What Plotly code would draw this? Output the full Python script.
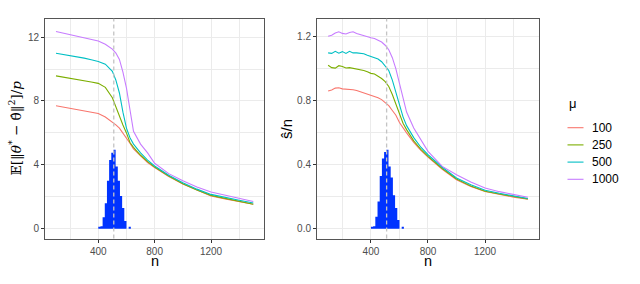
import plotly.graph_objects as go

# ---------------- data ----------------
mu_levels = ["100", "250", "500", "1000"]
mu_colors = ["#F8766D", "#7CAE00", "#00BFC4", "#C77CFF"]

n_left = [100, 150, 200, 250, 300, 350, 400, 450, 500, 525, 550, 575, 600, 625,
          650, 700, 750, 800, 900, 1000, 1100, 1200, 1300, 1400, 1500]
err_100 = [7.70, 7.62, 7.55, 7.47, 7.40, 7.32, 7.22, 7.00, 6.70, 6.50, 6.30, 6.00, 5.65, 5.35,
           5.00, 4.55, 4.15, 3.83, 3.27, 2.80, 2.40, 2.05, 1.87, 1.70, 1.53]
err_250 = [9.57, 9.50, 9.42, 9.35, 9.27, 9.19, 9.10, 8.85, 8.20, 7.60, 7.05, 6.50, 6.00, 5.40,
           5.10, 4.60, 4.20, 3.87, 3.30, 2.82, 2.42, 2.09, 1.90, 1.72, 1.53]
err_500 = [10.99, 10.92, 10.85, 10.77, 10.68, 10.58, 10.47, 10.30, 9.85, 9.30, 8.50, 7.30, 6.30, 5.70,
           5.30, 4.75, 4.30, 3.93, 3.35, 2.88, 2.48, 2.15, 1.95, 1.78, 1.61]
err_1000 = [12.35, 12.25, 12.15, 12.05, 11.95, 11.85, 11.75, 11.55, 11.25, 11.00, 10.60, 9.80, 8.80, 7.45,
            6.10, 5.30, 4.75, 4.10, 3.45, 3.00, 2.62, 2.30, 2.10, 1.90, 1.71]

n_right = [100, 125, 150, 175, 200, 225, 250, 275, 300, 325, 350, 375, 400, 425, 450, 475, 500,
           525, 550, 575, 600, 625, 650, 700, 750, 800, 900, 1000, 1100, 1200, 1300, 1400, 1500]
s_100 = [0.862, 0.868, 0.880, 0.882, 0.875, 0.873, 0.875, 0.870, 0.865, 0.857, 0.852, 0.843, 0.835,
         0.830, 0.820, 0.808, 0.790, 0.770, 0.740, 0.710, 0.665, 0.630, 0.600, 0.540, 0.490, 0.448,
         0.372, 0.307, 0.265, 0.233, 0.215, 0.198, 0.185]
s_250 = [1.023, 1.008, 1.005, 1.020, 1.015, 1.006, 1.008, 1.004, 1.000, 0.995, 0.990, 0.982, 0.972,
         0.968, 0.955, 0.940, 0.920, 0.890, 0.840, 0.780, 0.710, 0.660, 0.620, 0.550, 0.497, 0.453,
         0.377, 0.311, 0.268, 0.235, 0.217, 0.200, 0.187]
s_500 = [1.100, 1.097, 1.110, 1.098, 1.108, 1.097, 1.110, 1.100, 1.100, 1.098, 1.095, 1.085, 1.078,
         1.070, 1.062, 1.045, 1.020, 0.990, 0.930, 0.850, 0.770, 0.700, 0.645, 0.570, 0.510, 0.463,
         0.385, 0.318, 0.275, 0.241, 0.222, 0.204, 0.189]
s_1000 = [1.204, 1.210, 1.225, 1.232, 1.222, 1.218, 1.228, 1.232, 1.222, 1.215, 1.205, 1.200, 1.195,
          1.190, 1.180, 1.168, 1.148, 1.120, 1.070, 1.000, 0.910, 0.820, 0.730, 0.630, 0.555, 0.484,
          0.390, 0.338, 0.292, 0.255, 0.232, 0.213, 0.197]

# histogram (scaled) of the transition point: contiguous bins from hist_start, width hist_binwidth
hist_start = 400
hist_binwidth = 15.4
hist_left = [0.12, 0.15, 0.72, 1.60, 3.00, 4.30, 4.76, 4.95, 3.90, 3.00, 2.05, 1.30, 0.48, 0.0, 0.13]
hist_right = [0.012, 0.015, 0.075, 0.17, 0.33, 0.44, 0.48, 0.494, 0.39, 0.32, 0.21, 0.13, 0.055, 0.0, 0.013]
n_threshold = 510

left_series = [err_100, err_250, err_500, err_1000]
right_series = [s_100, s_250, s_500, s_1000]

# ---------------- figure ----------------
W, H = 640, 284
fig = go.Figure()
FONT = "Liberation Sans, Arial, sans-serif"
HIST_COLOR = "#0033FF"

hist_edges = [hist_start + i * hist_binwidth for i in range(len(hist_left) + 1)]


def hist_trace(heights, xa, ya):
    return go.Scatter(x=hist_edges, y=list(heights) + [0.0], mode="lines", line_shape="hv",
                      line=dict(width=0, color=HIST_COLOR), fill="tozeroy", fillcolor=HIST_COLOR,
                      xaxis=xa, yaxis=ya, showlegend=False, hoverinfo="skip")


fig.add_trace(hist_trace(hist_left, "x", "y"))
fig.add_trace(hist_trace(hist_right, "x2", "y2"))

for name, col, ys in zip(mu_levels, mu_colors, left_series):
    fig.add_trace(go.Scatter(x=n_left, y=ys, mode="lines", line=dict(color=col, width=1.1),
                             name=name, xaxis="x", yaxis="y", showlegend=False))
for name, col, ys in zip(mu_levels, mu_colors, right_series):
    fig.add_trace(go.Scatter(x=n_right, y=ys, mode="lines", line=dict(color=col, width=1.1),
                             name=name, xaxis="x2", yaxis="y2", showlegend=False))

GRID = "#EBEBEB"
common = dict(showline=True, mirror=True, linecolor="#555555", linewidth=1,
              ticks="outside", ticklen=3, tickcolor="#333333", tickwidth=1,
              tickfont=dict(family=FONT, size=10, color="#4D4D4D"),
              showgrid=True, gridcolor=GRID, gridwidth=1.1, zeroline=False, automargin=False)

ydom = [1 - 238.5 / H, 1 - 18.7 / H]
xaxis_common = dict(common, tick0=0, dtick=400,
                    minor=dict(dtick=200, tick0=0, showgrid=True, gridcolor=GRID, gridwidth=0.6))

fig.update_layout(
    width=W, height=H, margin=dict(l=0, r=0, t=0, b=0, autoexpand=False),
    paper_bgcolor="white", plot_bgcolor="white", showlegend=False,
    xaxis=dict(xaxis_common, domain=[45 / W, 264 / W], range=[22, 1576], anchor="y"),
    yaxis=dict(common, domain=ydom, range=[-0.61, 13.15], tick0=0, dtick=4, anchor="x",
               minor=dict(dtick=2, tick0=0, showgrid=True, gridcolor=GRID, gridwidth=0.6)),
    xaxis2=dict(xaxis_common, domain=[317 / W, 538.7 / W], range=[22, 1576], anchor="y2"),
    yaxis2=dict(common, domain=ydom, range=[-0.061, 1.314], tick0=0, dtick=0.4, tickformat=".1f",
                anchor="x2",
                minor=dict(dtick=0.2, tick0=0, showgrid=True, gridcolor=GRID, gridwidth=0.6)),
)

# dashed vertical line at the threshold
for xr, yr in [("x", "y"), ("x2", "y2")]:
    fig.add_shape(type="line", xref=xr, yref=f"{yr} domain",
                  x0=n_threshold, x1=n_threshold, y0=0, y1=1, layer="above",
                  line=dict(color="#C4C4C4", width=1.3, dash="4px,3px"))

# x-axis titles
for xc in [154.5, 428]:
    fig.add_annotation(xref="paper", yref="paper", x=xc / W, y=1 - 261 / H, text="n",
                       showarrow=False, xanchor="center", yanchor="middle",
                       font=dict(family=FONT, size=14.5, color="#000000"))

# y-axis titles
fig.add_annotation(xref="paper", yref="paper", x=15 / W, y=1 - 128.5 / H,
                   text="𝔼[‖<i>θ</i><sup>*</sup> − θ̂‖<sup>2</sup>]/<i>p</i>",
                   textangle=-90, showarrow=False, xanchor="center", yanchor="middle",
                   font=dict(family="DejaVu Serif, Liberation Serif, serif", size=13.5, color="#000000"))
fig.add_annotation(xref="paper", yref="paper", x=286 / W, y=1 - 129 / H,
                   text="ŝ/n", textangle=-90, showarrow=False, xanchor="center", yanchor="middle",
                   font=dict(family="Liberation Sans", size=15, color="#000000"))

# manual ggplot-style legend
fig.add_annotation(xref="paper", yref="paper", x=567 / W, y=1 - 104 / H, text="μ",
                   showarrow=False, xanchor="left", yanchor="middle",
                   font=dict(family=FONT, size=13, color="#000000"))
for i, (name, col) in enumerate(zip(mu_levels, mu_colors)):
    yy = 1 - (127.7 + i * 17.2) / H
    fig.add_shape(type="line", xref="paper", yref="paper", x0=567.5 / W, x1=583.5 / W,
                  y0=yy, y1=yy, line=dict(color=col, width=1.1))
    fig.add_annotation(xref="paper", yref="paper", x=590 / W, y=yy, text=name,
                       showarrow=False, xanchor="left", yanchor="middle",
                       font=dict(family=FONT, size=12, color="#000000"))

fig.write_html("out.html", config={"displayModeBar": False},
               post_script="document.body.style.margin='0px';")
